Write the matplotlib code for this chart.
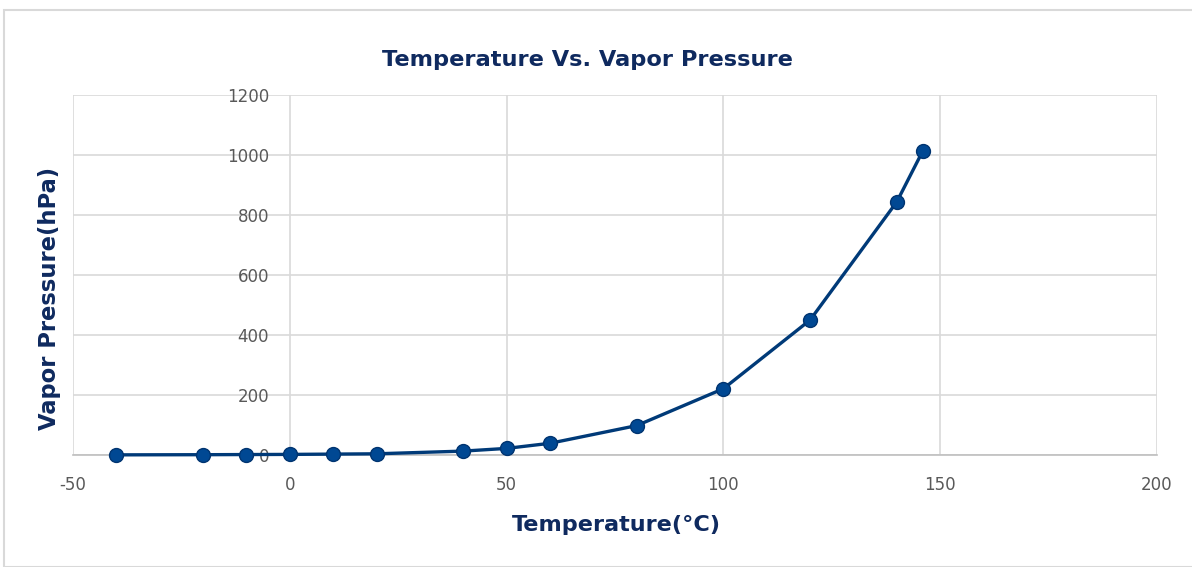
import matplotlib
matplotlib.use("Agg")
import matplotlib.pyplot as plt
from matplotlib.patches import Rectangle

temperature = [-40, -20, -10, 0, 10, 20, 40, 50, 60, 80, 100, 120, 140, 146]
vapor_pressure = [0.5, 1, 1.5, 2, 3, 4, 13, 22, 39, 98, 221, 450, 844, 1014]
x_ticks = [-50, 0, 50, 100, 150, 200]
y_ticks = [0, 200, 400, 600, 800, 1000, 1200]

plt.rcParams['font.family'] = ['DejaVu Sans']
W, H = 1192, 567
fig = plt.figure(figsize=(W / 100, H / 100), dpi=100)
fig.patch.set_facecolor('white')
fig.patches.append(Rectangle((4 / W, 0), 1, 1 - 10 / H, transform=fig.transFigure,
                             fill=False, edgecolor='#d9d9d9', linewidth=1.5))

ax = fig.add_axes([73 / W, 1 - 455 / H, (1157 - 73) / W, (455 - 95) / H])
ax.set_xlim(-50, 200)
ax.set_ylim(0, 1200)
ax.set_xticks(x_ticks)
ax.set_yticks(y_ticks)
ax.grid(True, color='#d9d9d9', linewidth=1.2)
ax.set_axisbelow(True)
for s in ['top', 'right']:
    ax.spines[s].set_visible(False)
ax.spines['bottom'].set_color('#bfbfbf')
ax.spines['bottom'].set_linewidth(1.2)
ax.spines['left'].set_position(('data', 0))
ax.spines['left'].set_visible(False)
ax.tick_params(axis='both', length=0, labelsize=12, labelcolor='#595959')
ax.tick_params(axis='x', pad=15)
ax.tick_params(axis='y', pad=15)
ax.set_xticklabels([str(t) for t in x_ticks])
ax.set_yticklabels([str(t) for t in y_ticks])

ax.plot(temperature, vapor_pressure, color='#003a78', linewidth=2.4, marker='o',
        markersize=10, markerfacecolor='#004893', markeredgecolor='#003470',
        markeredgewidth=1, clip_on=False, zorder=3)

navy = '#0f2a5f'
fig.text(587 / W, 1 - 60 / H, 'Temperature Vs. Vapor Pressure', ha='center', va='center',
         fontsize=16.2, fontweight='bold', color=navy)
fig.text(616 / W, 1 - 525 / H, 'Temperature(°C)', ha='center', va='center',
         fontsize=16.1, fontweight='bold', color=navy)
fig.text(50 / W, 1 - 298 / H, 'Vapor Pressure(hPa)', ha='center', va='center',
         fontsize=16.3, fontweight='bold', color=navy, rotation=90)

fig.savefig('out.png', dpi=100)
